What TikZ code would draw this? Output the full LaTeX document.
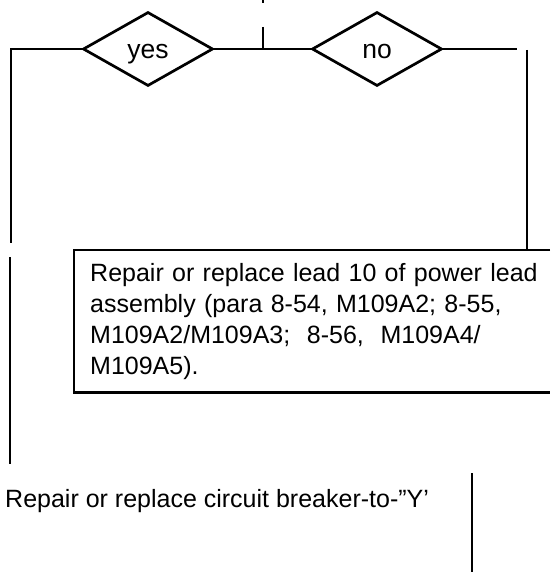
\documentclass[tikz,border=0pt]{standalone}
\usepackage{fontspec}
\setmainfont{Liberation Sans}
\usetikzlibrary{shapes.geometric}

\begin{document}
\begin{tikzpicture}[x=1pt,y=-1pt, % 1 unité = 1 px de l'image, y vers le bas
  trait/.style={line width=2.7pt},
  fin/.style={line width=1.8pt},
  losange/.style={draw, diamond, line width=2.7pt, minimum width=130pt,
    minimum height=74pt, inner sep=0pt, text height=20pt, text depth=0pt,
    font=\fontsize{26.5}{30}\selectfont},
  texte/.style={font=\fontsize{25}{31}\selectfont}]

% --------- PARAMÈTRES ----------
\def\yl{49}       % ligne horizontale des losanges
\def\xg{11}       % ligne verticale gauche
\def\xd{527}      % ligne verticale droite
\def\xb{472}      % ligne verticale en bas
\def\lb{476}      % largeur de la boîte (jusqu'au bord droit)
% --------------------------------

\useasboundingbox (0,0) rectangle (550,572);

% Losanges
\node[losange] (oui) at (148,\yl) {yes};
\node[losange] (non) at (377,\yl) {no};

% Boîte (ouverte à droite)
\node[texte, anchor=north west, text width=470pt, inner xsep=16pt, inner ysep=0pt,
  minimum height=142pt, align=left] (boite) at (74,250)
  {Repair or replace lead 10 of power lead\\
   assembly (para 8-54, M109A2; 8-55,\\
   M109A2/M109A3;\ \ 8-56,\ \ M109A4/\\
   M109A5).};
\draw[trait] ([xshift=\lb pt]boite.north west) -- (boite.north west)
  -- (boite.south west) -- ([xshift=\lb pt]boite.south west);

% Texte du bas
\node[texte, anchor=base west, inner sep=0pt] (circuit) at (5,507)
  {Repair or replace circuit breaker-to-”Y’};

% Bouts de lignes
\coordinate (haut0) at (263,0);
\coordinate (haut1) at (263,3);
\coordinate (haut2) at (263,27);
\coordinate (gauche1) at (\xg,243);
\coordinate (gauche2) at (10,257);
\coordinate (gauche3) at (10,464);
\coordinate (droite0) at (517,\yl);
\coordinate (droite1) at (\xd,50);
\coordinate (bas0) at (\xb,473);
\coordinate (bas1) at (\xb,572);

% Liaisons
\draw[fin] (haut0) -- (haut1);
\draw[fin] (haut2) -- (haut2 |- oui.east);
\draw[trait] (oui.east) -- (non.west);
\draw[trait] (oui.west) -| (gauche1);
\draw[fin] (gauche2) -- (gauche3);
\draw[trait] (non.east) -- (droite0);
\draw[trait] (droite1) -- (droite1 |- boite.north);
\draw[trait] (bas0) -- (bas1);

\end{tikzpicture}
\end{document}
